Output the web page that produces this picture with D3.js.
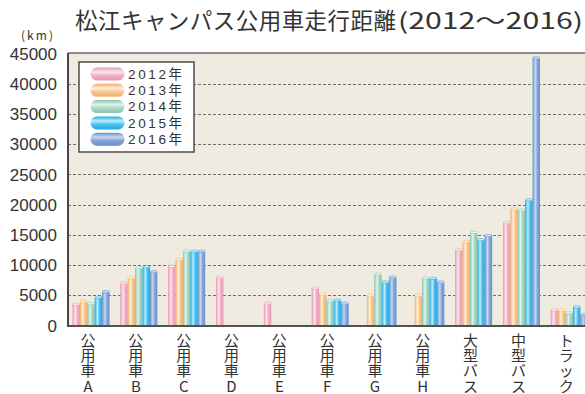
<!DOCTYPE html>
<html>
<head>
<meta charset="utf-8">
<script src="https://cdn.jsdelivr.net/npm/d3@7/dist/d3.min.js"></script>
<style>
  html, body { margin: 0; padding: 0; background: #ffffff; }
  svg { display: block; }
  text { font-family: "Noto Sans CJK JP", "Noto Sans", sans-serif; fill: #333; }
</style>
</head>
<body>
<svg id="chart" width="585" height="394"></svg>
<script>
// Categories (vehicles), stacked vertically under the axis
const categories = ["公用車A", "公用車B", "公用車C", "公用車D", "公用車E", "公用車F", "公用車G", "公用車H", "大型バス", "中型バス", "トラック"];
const years = ["2012年", "2013年", "2014年", "2015年", "2016年"];

// Distance travelled per year (km); null = no record
const km2012 = [3500, 7000, 9800, 8000, 3700, 6200, null, null, 12500, 17000, 2600];
const km2013 = [4000, 7900, 10900, null, null, 5200, 5000, 5000, 13900, 19300, 2600];
const km2014 = [3600, 9600, 12300, null, null, 4100, 8500, 7900, 15400, 19100, 2100];
const km2015 = [4700, 9700, 12300, null, null, 4200, 7200, 7800, 14200, 20800, 3100];
const km2016 = [5600, 8900, 12300, null, null, 3700, 8000, 7200, 14900, 44300, 1800];

const yTicks = [0, 5000, 10000, 15000, 20000, 25000, 30000, 35000, 40000, 45000];

const series = [km2012, km2013, km2014, km2015, km2016];

// Cylinder shading per series: [edge, highlight, body]
const palette = [
  ["#e597ad", "#fde6ee", "#f2b3c6"],
  ["#efae6c", "#fff0da", "#f9c995"],
  ["#86c4aa", "#e3f4ec", "#a9d9c4"],
  ["#1ea8e2", "#c0edff", "#4ec4f1"],
  ["#6590cc", "#c8d9f2", "#87a8da"]
];

const svg = d3.select("#chart");
const W = 585, H = 394;
const plot = { left: 68, right: 585, top: 53, bottom: 326 };

const x = d3.scaleBand()
  .domain(categories)
  .range([67.1, 593.2])
  .paddingInner(0.226)
  .paddingOuter(0.113);

const xs = d3.scaleBand()
  .domain(years)
  .range([0, x.bandwidth()]);

const y = d3.scaleLinear()
  .domain([0, 45000])
  .range([plot.bottom - 0.5, plot.top + 0.5]);

// Gradients
const defs = svg.append("defs");
palette.forEach((c, i) => {
  const g = defs.append("linearGradient")
    .attr("id", "bar" + i).attr("x1", 0).attr("x2", 1).attr("y1", 0).attr("y2", 0);
  g.append("stop").attr("offset", 0).attr("stop-color", c[0]);
  g.append("stop").attr("offset", 0.38).attr("stop-color", c[1]);
  g.append("stop").attr("offset", 0.62).attr("stop-color", c[2]);
  g.append("stop").attr("offset", 1).attr("stop-color", c[0]);

  const s = defs.append("linearGradient")
    .attr("id", "sw" + i).attr("x1", 0).attr("x2", 0).attr("y1", 0).attr("y2", 1);
  s.append("stop").attr("offset", 0).attr("stop-color", c[0]);
  s.append("stop").attr("offset", 0.35).attr("stop-color", c[1]);
  s.append("stop").attr("offset", 0.6).attr("stop-color", c[2]);
  s.append("stop").attr("offset", 1).attr("stop-color", c[0]);
});
defs.append("clipPath").attr("id", "plotclip")
  .append("rect").attr("x", plot.left).attr("y", 0)
  .attr("width", W - plot.left).attr("height", plot.bottom);

// Plot background
svg.append("rect")
  .attr("x", plot.left).attr("y", plot.top)
  .attr("width", plot.right - plot.left).attr("height", plot.bottom - plot.top)
  .attr("fill", "#efebe1");

// Dashed gridlines
svg.append("g").selectAll("line")
  .data(yTicks.filter(t => t > 0 && t < 45000))
  .join("line")
  .attr("x1", plot.left).attr("x2", plot.right)
  .attr("y1", d => Math.round(y(d)) + 0.5).attr("y2", d => Math.round(y(d)) + 0.5)
  .attr("stroke", "#6f6c66").attr("stroke-width", 1)
  .attr("stroke-dasharray", "3,2");

// Bars
const bars = svg.append("g").attr("clip-path", "url(#plotclip)");
series.forEach((vals, si) => {
  const g = bars.append("g");
  const data = categories.map((c, i) => ({ c, v: vals[i] })).filter(d => d.v != null);
  g.selectAll("rect")
    .data(data)
    .join("rect")
    .attr("x", d => x(d.c) + xs(years[si]))
    .attr("y", d => y(d.v))
    .attr("width", xs.bandwidth())
    .attr("height", d => y(0) - y(d.v))
    .attr("fill", `url(#bar${si})`);
  g.selectAll("ellipse")
    .data(data)
    .join("ellipse")
    .attr("cx", d => x(d.c) + xs(years[si]) + xs.bandwidth() / 2)
    .attr("cy", d => y(d.v))
    .attr("rx", xs.bandwidth() / 2)
    .attr("ry", 1.2)
    .attr("fill", palette[si][1])
    .attr("stroke", palette[si][0])
    .attr("stroke-width", 0.5);
});

// Frame lines
svg.append("line").attr("x1", plot.left).attr("x2", plot.right)
  .attr("y1", plot.top).attr("y2", plot.top)
  .attr("stroke", "#6a6762").attr("stroke-width", 1.5);
svg.append("line").attr("x1", plot.left).attr("x2", plot.right)
  .attr("y1", plot.bottom).attr("y2", plot.bottom)
  .attr("stroke", "#55524e").attr("stroke-width", 2);
svg.append("line").attr("x1", plot.left).attr("x2", plot.left)
  .attr("y1", plot.top).attr("y2", plot.bottom + 1)
  .attr("stroke", "#4a4743").attr("stroke-width", 2);

// Y axis labels
svg.append("g").selectAll("text")
  .data(yTicks)
  .join("text")
  .attr("x", 57)
  .attr("y", d => y(d))
  .attr("dy", "0.36em")
  .attr("text-anchor", "end")
  .style("font-family", "'Liberation Sans', Arial, sans-serif")
  .style("font-size", "17px")
  .text(d => d);

// Unit
svg.append("text")
  .attr("x", 37).attr("y", 40)
  .attr("text-anchor", "middle")
  .style("font-size", "12px")
  .attr("textLength", 32)
  .text("(km)");

// Title, in two runs: the Japanese name and the year span
svg.append("text")
  .attr("x", 75).attr("y", 29)
  .style("font-size", "22.5px")
  .attr("textLength", 321)
  .attr("lengthAdjust", "spacing")
  .text("松江キャンパス公用車走行距離");
svg.append("text")
  .attr("x", 398).attr("y", 29)
  .style("font-size", "22.5px")
  .attr("textLength", 185)
  .attr("lengthAdjust", "spacingAndGlyphs")
  .text("(2012～2016)");

// Vertical category labels, one character per line
const xl = svg.append("g");
categories.forEach(c => {
  Array.from(c).forEach((ch, k) => {
    xl.append("text")
      .attr("x", x(c) + x.bandwidth() / 2 - 3)
      .attr("y", 340.5 + k * 15.2)
      .attr("dy", "0.36em")
      .attr("text-anchor", "middle")
      .style("font-size", "15px")
      .text(ch);
  });
});

// Legend
const lg = svg.append("g");
lg.append("rect")
  .attr("x", 79).attr("y", 62).attr("width", 115).attr("height", 90)
  .attr("fill", "#ffffff").attr("stroke", "#4e4b47").attr("stroke-width", 1.5);
years.forEach((yr, i) => {
  const cy = 74 + i * 16.3;
  lg.append("rect")
    .attr("x", 90.5).attr("y", cy - 6.5).attr("width", 34).attr("height", 13)
    .attr("rx", 6.5).attr("ry", 6.5)
    .attr("fill", `url(#sw${i})`);
  lg.append("text")
    .attr("x", 128).attr("y", cy)
    .attr("dy", "0.36em")
    .style("font-family", "'Liberation Sans', 'Noto Sans CJK JP', sans-serif")
    .style("font-size", "13.5px")
    .attr("textLength", 54)
    .text(yr);
});
</script>
</body>
</html>
